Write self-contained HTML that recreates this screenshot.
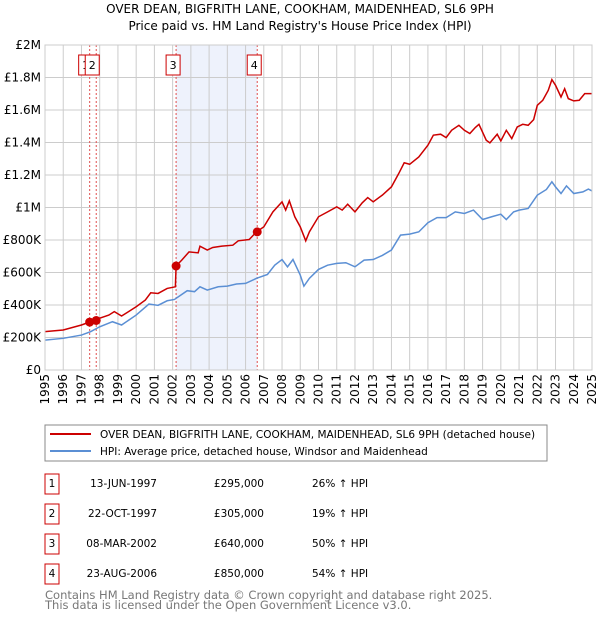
<!DOCTYPE html>
<html><head><meta charset="utf-8"><style>
body{margin:0;background:#fff;font-family:"DejaVu Sans","Liberation Sans",sans-serif;}
svg text{font-family:"DejaVu Sans","Liberation Sans",sans-serif;}
</style></head><body>
<svg id="c" width="600" height="620" xmlns="http://www.w3.org/2000/svg">
<text x="300" y="13" text-anchor="middle" font-size="12">OVER DEAN, BIGFRITH LANE, COOKHAM, MAIDENHEAD, SL6 9PH</text>
<text x="300" y="30" text-anchor="middle" font-size="12">Price paid vs. HM Land Registry's House Price Index (HPI)</text>
<g id="plot"></g>
<g>
<rect x="45" y="425" width="502" height="36" fill="#fff" stroke="#888"/>
<line x1="50" y1="434" x2="91" y2="434" stroke="#cc0000" stroke-width="2"/>
<text x="100" y="438" font-size="10.5">OVER DEAN, BIGFRITH LANE, COOKHAM, MAIDENHEAD, SL6 9PH (detached house)</text>
<line x1="50" y1="451" x2="91" y2="451" stroke="#5b8fd4" stroke-width="2"/>
<text x="100" y="455" font-size="10.5">HPI: Average price, detached house, Windsor and Maidenhead</text>
</g>
<g id="table" font-size="10.5"></g>
<text x="45" y="599" font-size="11.5" fill="#777">Contains HM Land Registry data © Crown copyright and database right 2025.</text>
<text x="45" y="609" font-size="11.5" fill="#777">This data is licensed under the Open Government Licence v3.0.</text>
</svg>
<script>
const hpiYears=[1995,1996,1997,1997.5,1998,1998.7,1999.2,2000,2000.7,2001.2,2001.7,2002.1,2002.8,2003.2,2003.5,2003.9,2004.5,2005,2005.5,2006,2006.6,2007.2,2007.6,2008,2008.3,2008.6,2009,2009.2,2009.5,2010,2010.5,2011,2011.5,2012,2012.5,2013,2013.5,2014,2014.5,2015,2015.5,2016,2016.5,2017,2017.5,2018,2018.5,2019,2019.5,2020,2020.3,2020.7,2021,2021.5,2022,2022.5,2022.8,2023,2023.3,2023.6,2024,2024.5,2024.8,2025];
const hpiValues=[184,195,215,236,266,297,277,338,406,398,426,434,488,482,512,492,512,516,529,533,564,588,645,680,635,680,584,516,564,619,645,656,660,635,676,680,705,738,830,836,850,906,938,938,973,963,984,926,943,959,926,973,984,994,1076,1111,1158,1127,1086,1133,1086,1096,1113,1102];
const priceYears=[1995,1996,1997,1997.4,1997.8,1998.5,1998.8,1999.2,2000,2000.5,2000.8,2001.2,2001.7,2002.15,2002.19,2002.5,2002.9,2003.4,2003.5,2003.9,2004.2,2004.7,2005.3,2005.6,2006.2,2006.6,2007,2007.5,2008,2008.2,2008.4,2008.7,2009,2009.3,2009.5,2010,2010.5,2011,2011.3,2011.6,2012,2012.4,2012.7,2013,2013.5,2014,2014.4,2014.7,2015,2015.5,2016,2016.3,2016.7,2017,2017.3,2017.7,2018,2018.3,2018.6,2018.8,2019.2,2019.4,2019.8,2020,2020.3,2020.6,2020.9,2021.2,2021.5,2021.8,2022,2022.3,2022.6,2022.8,2023,2023.3,2023.5,2023.7,2024,2024.3,2024.6,2025];
const priceValues=[236,246,277,293,311,338,359,332,389,430,475,471,502,512,640,676,727,721,762,738,754,762,768,795,803,850,881,973,1035,984,1041,943,881,795,850,943,973,1004,984,1020,973,1029,1061,1035,1076,1127,1209,1275,1266,1311,1383,1445,1451,1430,1475,1506,1475,1455,1492,1512,1414,1398,1451,1410,1475,1424,1496,1512,1506,1541,1629,1660,1721,1787,1752,1680,1731,1670,1656,1660,1701,1701];
const saleLabels=["1","2","3","4"];
const saleYears=[1997.45,1997.81,2002.19,2006.64];
const saleValues=[295,305,640,850];
const saleDates=["13-JUN-1997","22-OCT-1997","08-MAR-2002","23-AUG-2006"];
const salePrices=["£295,000","£305,000","£640,000","£850,000"];
const saleHpi=["26% ↑ HPI","19% ↑ HPI","50% ↑ HPI","54% ↑ HPI"];
const yTicks=[0,200,400,600,800,1000,1200,1400,1600,1800,2000];
const yTickLabels=["£0","£200K","£400K","£600K","£800K","£1M","£1.2M","£1.4M","£1.6M","£1.8M","£2M"];
const xTicks=[1995,1996,1997,1998,1999,2000,2001,2002,2003,2004,2005,2006,2007,2008,2009,2010,2011,2012,2013,2014,2015,2016,2017,2018,2019,2020,2021,2022,2023,2024,2025];

const X0=45,X1=592,Y0=370,Y1=45;
const xs=y=>X0+(y-1995)/30*(X1-X0);
const ys=v=>Y0-v/2000*(Y0-Y1);
const NS="http://www.w3.org/2000/svg";
function mk(tag,attrs,parent){const e=document.createElementNS(NS,tag);for(const k in attrs)e.setAttribute(k,attrs[k]);parent.appendChild(e);return e;}
const plot=document.getElementById('plot');
mk('rect',{x:X0,y:Y1,width:X1-X0,height:Y0-Y1,fill:'#fff'},plot);
const shade=mk('rect',{x:xs(saleYears[2]),y:Y1,width:xs(saleYears[3])-xs(saleYears[2]),height:Y0-Y1,fill:'#eef2fc'},plot);


yTicks.forEach((t,i)=>{
  const l=mk('line',{x1:X0,x2:X1,y1:ys(t),y2:ys(t),stroke:'#ccc'},plot);
  
  
  const tx=mk('text',{x:X0-4,y:ys(t)+4,'text-anchor':'end','font-size':12},plot);
  tx.textContent=yTickLabels[i];
  
  
});
xTicks.forEach(t=>{
  const l=mk('line',{x1:xs(t),x2:xs(t),y1:Y1,y2:Y0,stroke:'#ccc'},plot);
  
  
  const tx=mk('text',{x:0,y:0,'text-anchor':'end','font-size':12,transform:`translate(${xs(t)+4},${Y0+4}) rotate(-90)`},plot);
  tx.textContent=t;
  
  
});
saleYears.forEach((y,i)=>{
  const l=mk('line',{x1:xs(y),x2:xs(y),y1:Y1,y2:Y0,stroke:'#e05050','stroke-dasharray':'2,2'},plot);
  
  
});
const hp=mk('polyline',{points:hpiYears.map((y,i)=>xs(y)+','+ys(hpiValues[i])).join(' '),fill:'none',stroke:'#5b8fd4','stroke-width':1.5},plot);


const pp=mk('polyline',{points:priceYears.map((y,i)=>xs(y)+','+ys(priceValues[i])).join(' '),fill:'none',stroke:'#cc0000','stroke-width':1.5},plot);


saleYears.forEach((y,i)=>{
  const c=mk('circle',{cx:xs(y),cy:ys(saleValues[i]),r:4.5,fill:'#cc0000'},plot);
  
  
  const g=mk('g',{},plot);
  
  
  const lx=i<2?xs(y)-11:xs(y)-10;
  mk('rect',{x:lx,y:55,width:14,height:20,fill:'#fff',stroke:'#cc0000'},g);
  const t=mk('text',{x:lx+7,y:69,'text-anchor':'middle','font-size':11},g);
  t.textContent=saleLabels[i];
});
mk('rect',{x:X0,y:Y1,width:X1-X0,height:Y0-Y1,fill:'none',stroke:'#ccc'},plot);
const tb=document.getElementById('table');
saleLabels.forEach((s,i)=>{
  const cy=483+i*30;
  const g=mk('g',{},tb);
  
  
  mk('rect',{x:45,y:cy-9,width:14,height:20,fill:'#fff',stroke:'#cc0000'},g);
  let t=mk('text',{x:52,y:cy+4,'text-anchor':'middle'},g);t.textContent=s;
  t=mk('text',{x:157,y:cy+4,'text-anchor':'end'},g);t.textContent=saleDates[i];
  t=mk('text',{x:264,y:cy+4,'text-anchor':'end'},g);t.textContent=salePrices[i];
  t=mk('text',{x:312,y:cy+4},g);t.textContent=saleHpi[i];
});
</script>
</body></html>
